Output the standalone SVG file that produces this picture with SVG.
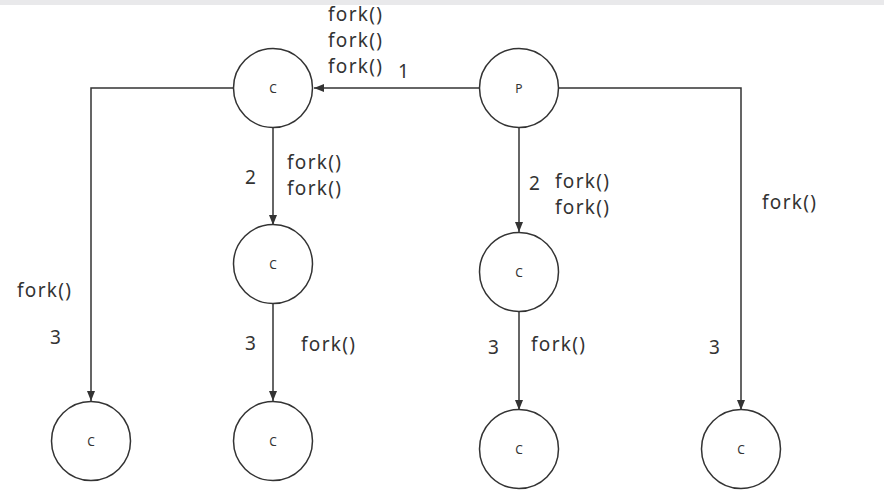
<svg xmlns="http://www.w3.org/2000/svg" width="884" height="502" viewBox="0 0 884 502">
<style>
.node circle{fill:#fff;stroke:#333;stroke-width:1.5}
.node text{font-family:"Noto Sans","Liberation Sans",sans-serif;font-size:12px;fill:#333;text-anchor:middle;dominant-baseline:central}
.edge{fill:none;stroke:#333;stroke-width:1.5}
.lbl{font-family:"Noto Sans","Liberation Sans",sans-serif;font-size:19px;fill:#333}
</style>
<defs>
<marker id="ah" markerWidth="10" markerHeight="8" refX="10" refY="4" orient="auto" markerUnits="userSpaceOnUse">
<path d="M0,0 L10,4 L0,8 Z" fill="#333"/>
</marker>
</defs>
<rect x="0" y="0" width="884" height="502" fill="#fff"/>
<rect x="0" y="0" width="884" height="5" fill="#e9e9eb"/>
<g id="connectors">
<path class="edge" d="M480,88 L314,88" marker-end="url(#ah)"/>
<path class="edge" d="M234,88 L91,88 L91,401" marker-end="url(#ah)"/>
<path class="edge" d="M273,127 L273,225" marker-end="url(#ah)"/>
<path class="edge" d="M273,304 L273,401" marker-end="url(#ah)"/>
<path class="edge" d="M519,127 L519,232" marker-end="url(#ah)"/>
<path class="edge" d="M519,312 L519,410" marker-end="url(#ah)"/>
<path class="edge" d="M558,88 L741,88 L741,410" marker-end="url(#ah)"/>
</g>
<g id="nodeP" class="node"><circle cx="519" cy="88" r="39.5"/><text x="519" y="88">P</text></g>
<g id="nodeC1" class="node"><circle cx="273" cy="88" r="39.5"/><text x="273" y="88">C</text></g>
<g id="nodeC2" class="node"><circle cx="273" cy="264" r="39.5"/><text x="273" y="264">C</text></g>
<g id="nodeC3" class="node"><circle cx="519" cy="272" r="39.5"/><text x="519" y="272">C</text></g>
<g id="nodeC4" class="node"><circle cx="91" cy="441" r="39.5"/><text x="91" y="441">C</text></g>
<g id="nodeC5" class="node"><circle cx="273" cy="441" r="39.5"/><text x="273" y="441">C</text></g>
<g id="nodeC6" class="node"><circle cx="519" cy="449" r="39.5"/><text x="519" y="449">C</text></g>
<g id="nodeC7" class="node"><circle cx="741" cy="449" r="39.5"/><text x="741" y="449">C</text></g>
<g id="labels">
<text class="lbl" x="328" y="21" textLength="54">fork()</text>
<text class="lbl" x="328" y="47" textLength="54">fork()</text>
<text class="lbl" x="328" y="73" textLength="54">fork()</text>
<text class="lbl" x="398" y="78">1</text>
<text class="lbl" x="245" y="184">2</text>
<text class="lbl" x="287" y="169" textLength="54">fork()</text>
<text class="lbl" x="287" y="195" textLength="54">fork()</text>
<text class="lbl" x="529" y="190">2</text>
<text class="lbl" x="555" y="188" textLength="54">fork()</text>
<text class="lbl" x="555" y="214" textLength="54">fork()</text>
<text class="lbl" x="762" y="209" textLength="54">fork()</text>
<text class="lbl" x="17" y="297" textLength="54">fork()</text>
<text class="lbl" x="50" y="344">3</text>
<text class="lbl" x="245" y="350">3</text>
<text class="lbl" x="301" y="351" textLength="54">fork()</text>
<text class="lbl" x="488" y="354">3</text>
<text class="lbl" x="531" y="351" textLength="54">fork()</text>
<text class="lbl" x="709" y="354">3</text>
</g>
</svg>
